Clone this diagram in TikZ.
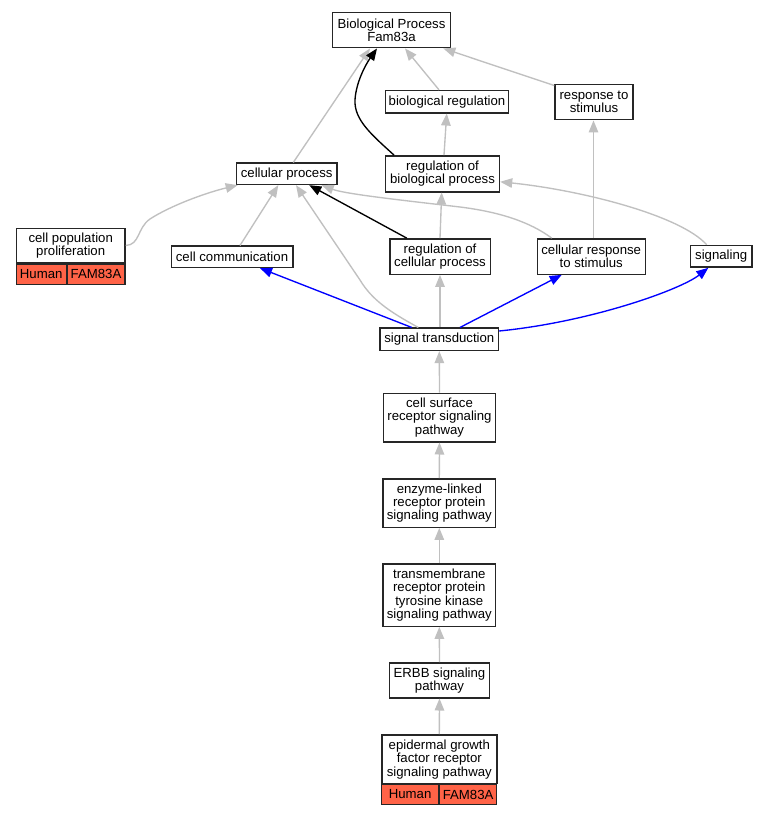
\documentclass[tikz,border=0pt]{standalone}
\usepackage{fontspec}
\setmainfont{Liberation Sans}
\usetikzlibrary{arrows.meta}
\definecolor{edgegray}{HTML}{C0C0C0}
\definecolor{hitred}{HTML}{FF6347}
\begin{document}
\begin{tikzpicture}[x=1pt,y=-1pt,
  box/.style={draw=black!85, line width=1.4pt, fill=white, inner sep=0pt, align=center, font=\fontsize{13.2}{13.4}\selectfont},
  cell/.style={box, fill=hitred},
  gedge/.style={draw=edgegray, line width=1.35pt, -{Triangle[length=12pt,width=9.5pt]}},
  kedge/.style={gedge, draw=black},
  bedge/.style={gedge, draw=blue}]
\fill[white] (0,0) rectangle (768,816);
\useasboundingbox (0,0) rectangle (768,816);

\node[box, minimum width=118pt, minimum height=35.5pt] (bp) at (391.5,30) {Biological Process\\Fam83a};
\node[box, minimum width=123pt, minimum height=22.3pt] (breg) at (447,101.7) {biological regulation};
\node[box, minimum width=78pt, minimum height=35.5pt] (rts) at (594,102) {response to\\stimulus};
\node[box, minimum width=100.3pt, minimum height=21.3pt] (cp) at (286.7,173.8) {cellular process};
\node[box, minimum width=114pt, minimum height=36pt] (rbp) at (442.5,173.8) {regulation of\\biological process};
\node[box, minimum width=108.6pt, minimum height=34.6pt] (cpp) at (70.7,245.5) {cell population\\proliferation};
\node[cell, minimum width=50pt, minimum height=20.7pt] (cpph) at (41.2,274.2) {Human};
\node[cell, minimum width=57.6pt, minimum height=20.7pt] (cppf) at (96,274.2) {FAM83A};
\node[box, minimum width=121.6pt, minimum height=21.3pt] (cc) at (232,256.8) {cell communication};
\node[box, minimum width=100.4pt, minimum height=35.4pt] (rcp) at (440,256.5) {regulation of\\cellular process};
\node[box, minimum width=108pt, minimum height=35.4pt] (crs) at (591.2,256.5) {cellular response\\to stimulus};
\node[box, minimum width=61.3pt, minimum height=21.7pt] (sig) at (721.2,256.3) {signaling};
\node[box, minimum width=118.4pt, minimum height=22.3pt] (st) at (439.3,339.3) {signal transduction};
\node[box, minimum width=111.7pt, minimum height=48.6pt] (csr) at (439.5,417.5) {cell surface\\receptor signaling\\pathway};
\node[box, minimum width=112.7pt, minimum height=48.4pt] (elr) at (439.3,503) {enzyme-linked\\receptor protein\\signaling pathway};
\node[box, minimum width=112.7pt, minimum height=62.4pt] (tm) at (439.3,595) {transmembrane\\receptor protein\\tyrosine kinase\\signaling pathway};
\node[box, minimum width=100.4pt, minimum height=35pt] (erbb) at (439.5,680.3) {ERBB signaling\\pathway};
\node[box, minimum width=115pt, minimum height=48.7pt] (egf) at (439.3,759.2) {epidermal growth\\factor receptor\\signaling pathway};
\node[cell, minimum width=56.7pt, minimum height=20pt] (egfh) at (410.1,794.5) {Human};
\node[cell, minimum width=57.3pt, minimum height=20pt] (egff) at (468.1,794.5) {FAM83A};

% edges to Biological Process
\draw[gedge] ([xshift=6.6pt]cp.north) -- ([xshift=-21.5pt]bp.south);
\draw[kedge] ([xshift=-48.5pt]rbp.north) .. controls (372,135) and (354,120) .. (355,100) .. controls (356,82) and (366,64) .. ([xshift=-14.5pt]bp.south);
\draw[gedge] ([xshift=-8pt]breg.north) -- ([xshift=13.5pt]bp.south);
\draw[gedge] ([yshift=-2pt]rts.north west) -- ([xshift=51.8pt]bp.south);
\draw[gedge] ([xshift=1.5pt]rbp.north) -- ([xshift=-0.3pt]breg.south);
\draw[gedge] ([xshift=2.3pt]crs.north) -- ([xshift=-0.5pt]rts.south);
% edges to cellular process
\draw[gedge] (cpp.east) .. controls (140,245) and (137,228) .. (150,219) .. controls (170,206) and (205,193) .. ([xshift=-49pt]cp.south);
\draw[gedge] ([xshift=8pt]cc.north) -- ([xshift=-8.4pt]cp.south);
\draw[gedge] ([xshift=-21pt]st.north) .. controls (390,312) and (372,300) .. (360,280) -- ([xshift=9.3pt]cp.south);
\draw[kedge] ([xshift=-33.3pt]rcp.north) -- ([xshift=22.6pt]cp.south);
\draw[gedge] ([xshift=-39.5pt]crs.north) .. controls (530,222) and (500,212) .. (460,207) .. controls (400,200) and (345,194) .. ([xshift=35pt]cp.south);
% edges to regulation of biological process
\draw[gedge] ([xshift=-14.5pt]sig.north) .. controls (680,215) and (580,190) .. ([yshift=-8pt]rbp.east);
\draw[gedge] (rcp.north) -- ([xshift=-0.8pt]rbp.south);
% from signal transduction
\draw[gedge] ([xshift=0.7pt]st.north) -- (rcp.south);
\draw[bedge] ([xshift=-27.6pt]st.north) -- ([xshift=28pt]cc.south);
\draw[bedge] ([xshift=20.7pt]st.north) -- ([xshift=-29.5pt]crs.south);
\draw[bedge] ([yshift=8.3pt]st.east) .. controls (590,322) and (680,290) .. ([xshift=-12.9pt]sig.south);
% chain
\draw[gedge] (csr.north) -- (st.south);
\draw[gedge] (elr.north) -- (csr.south);
\draw[gedge] (tm.north) -- (elr.south);
\draw[gedge] (erbb.north) -- (tm.south);
\draw[gedge] (egf.north) -- (erbb.south);
\end{tikzpicture}
\end{document}
